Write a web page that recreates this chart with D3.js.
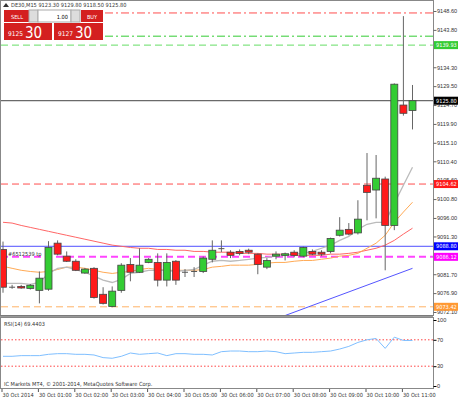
<!DOCTYPE html>
<html><head><meta charset="utf-8">
<script src="https://cdn.jsdelivr.net/npm/d3@7"></script>
<style>body{margin:0;background:#fff}svg{font-family:"DejaVu Sans Condensed","DejaVu Sans",sans-serif}</style>
</head><body><svg id="c" width="459" height="400"></svg>
<script>
const opens =[9088.0,9078.4,9078.6,9078.1,9077.6,9077.9,9089.6,9086.3,9085.0,9082.0,9083.2,9076.6,9073.5,9077.6,9084.2,9082.2,9084.7,9084.7,9080.2,9085.0,9082.2,9082.4,9082.4,9085.5,9088.2,9087.3,9087.5,9087.8,9086.8,9083.5,9086.3,9086.5,9087.3,9086.3,9087.5,9087.3,9087.5,9091.6,9093.1,9092.2,9104.3,9103.1,9105.9,9094.1,9124.7,9123.3];
const highs =[9090.0,9079.0,9079.0,9079.2,9082.4,9090.1,9090.3,9087.5,9085.5,9083.3,9083.5,9078.4,9078.6,9084.5,9085.8,9088.3,9085.8,9087.0,9087.0,9085.3,9083.0,9083.5,9086.2,9090.3,9090.3,9087.8,9088.0,9088.2,9087.0,9085.8,9087.5,9087.2,9087.8,9088.7,9088.0,9087.8,9091.0,9096.2,9094.7,9100.5,9112.5,9112.0,9106.5,9130.2,9147.3,9129.8];
const lows  =[9077.0,9078.0,9078.0,9077.8,9074.3,9077.5,9086.5,9084.8,9082.5,9081.8,9075.5,9074.0,9073.3,9077.0,9079.9,9082.0,9084.5,9078.6,9078.6,9079.0,9081.0,9081.0,9082.0,9084.7,9087.3,9085.8,9086.5,9086.8,9081.7,9083.0,9085.5,9085.2,9086.0,9086.0,9086.5,9086.3,9087.0,9091.3,9091.6,9091.8,9095.4,9095.9,9082.7,9092.9,9122.0,9118.5];
const closes=[9078.4,9078.4,9078.2,9078.9,9080.7,9088.5,9086.8,9085.0,9082.7,9083.0,9075.8,9074.3,9077.4,9084.0,9082.2,9084.0,9085.5,9080.2,9084.7,9080.2,9082.2,9082.4,9085.8,9087.8,9088.2,9086.5,9087.0,9087.3,9084.2,9085.2,9086.8,9086.9,9086.5,9088.5,9086.8,9086.8,9090.8,9092.9,9091.9,9095.7,9102.5,9106.1,9094.1,9130.0,9122.6,9125.8];
const maRed=[9094.9,9094.7,9094.1,9093.6,9093.1,9092.6,9092.1,9091.6,9091.1,9090.6,9090.1,9089.6,9089.1,9088.8,9088.5,9088.3,9088.3,9088.0,9088.0,9087.8,9087.8,9087.5,9087.5,9087.3,9087.3,9087.3,9087.0,9087.0,9087.0,9086.8,9086.8,9086.8,9086.5,9086.5,9086.5,9086.5,9086.8,9086.8,9087.0,9087.3,9087.8,9088.3,9089.1,9090.3,9091.9,9093.4];
const maOrange=[9083.7,9083.2,9082.7,9082.4,9082.2,9082.4,9082.9,9083.5,9083.5,9083.2,9082.7,9082.2,9081.9,9082.2,9082.4,9082.9,9083.2,9082.9,9082.7,9082.7,9082.7,9082.7,9082.9,9083.5,9083.7,9084.0,9084.0,9084.0,9084.2,9084.5,9084.7,9084.7,9085.0,9085.2,9085.2,9085.5,9085.8,9086.3,9086.5,9087.0,9088.3,9089.6,9091.6,9094.9,9097.5,9100.0];
const maGray=[9079.4,9079.4,9079.4,9079.1,9079.6,9081.9,9083.2,9083.5,9082.9,9082.2,9081.2,9080.2,9079.6,9080.4,9081.9,9082.2,9082.7,9082.7,9082.7,9082.4,9082.7,9082.9,9084.0,9085.0,9085.2,9085.0,9085.2,9085.5,9085.8,9086.0,9086.3,9086.5,9086.8,9087.0,9087.5,9088.3,9089.1,9090.3,9091.3,9093.1,9094.4,9094.9,9094.9,9099.7,9104.3,9108.9];
const rsi=[45,45,46,46,46,48,49,49,48,48,47,43,42,45,50,48,49,50,46,49,49,48,48,47,52,53,53,52,52,53,52,49,50,51,51,52,53,56,60,66,70,72,57,74,69,69];
const trendIdx=[31,45], trendVal=[9071.2,9083.2];
const levels=[
 {v:9148.1,c:"#ff4d4d",d:"8,3,2,3",label:null},
 {v:9142.2,c:"#33cc33",d:"8,3,2,3",label:null},
 {v:9139.93,c:"#66dd66",d:"7,4",label:"9139.93",bg:"#33cc33"},
 {v:9125.80,c:"#444",d:null,label:"9125.80",bg:"#000"},
 {v:9104.62,c:"#ff4d4d",d:"7,4",label:"9104.62",bg:"#ff1a1a"},
 {v:9088.80,c:"#5050ff",d:null,label:"9088.80",bg:"#0000ff"},
 {v:9086.12,c:"#ff44ff",d:"7,4",label:"9086.12",bg:"#ff00ff",w:2},
 {v:9073.42,c:"#ffb266",d:"7,4",label:"9073.42",bg:"#ff9933"}];
const priceTicks=[9148.60,9143.80,9134.30,9129.50,9124.70,9119.90,9115.10,9110.40,9105.60,9100.80,9096.00,9091.30,9081.70,9076.90,9072.10];
const timeLabels=["30 Oct 2014","30 Oct 01:00","30 Oct 02:00","30 Oct 03:00","30 Oct 04:00","30 Oct 05:00","30 Oct 06:00","30 Oct 07:00","30 Oct 08:00","30 Oct 09:00","30 Oct 10:00","30 Oct 11:00"];
const rsiTicks=[100,70,30,0];
const FS=5.6;

const svg=d3.select("#c");
const RX=433;
const x=d3.scaleLinear().domain([0,45]).range([3,412.5]);
const y=d3.scaleLinear().domain([9148.6,9072.1]).range([11,312]);
const yr=d3.scaleLinear().domain([0,100]).range([386,320]);

levels.forEach(l=>{
  const ln=svg.append("line").attr("x1",l.v>9140?105:1).attr("x2",RX).attr("y1",y(l.v)).attr("y2",y(l.v))
   .attr("stroke",l.c).attr("stroke-width",l.w||1);
  if(l.d) ln.attr("stroke-dasharray",l.d);
});
svg.append("text").attr("x",8).attr("y",y(9086.12)-1).attr("font-size",FS).attr("fill","#333").text("#6512539 tp");

const line=arr=>d3.line().x((d,i)=>x(i)).y(d=>y(d))(arr);
svg.append("path").attr("d",line(maRed)).attr("fill","none").attr("stroke","#ff6666");
svg.append("path").attr("d",line(maOrange)).attr("fill","none").attr("stroke","#ffaa55");
svg.append("path").attr("d",line(maGray)).attr("fill","none").attr("stroke","#bbbbbb").attr("stroke-width",1.3);
svg.append("line").attr("x1",x(trendIdx[0])).attr("x2",x(trendIdx[1])).attr("y1",y(trendVal[0])).attr("y2",y(trendVal[1])).attr("stroke","#5555ff");

opens.forEach((o,i)=>{
  const c=closes[i],up=c>=o,cx=x(i);
  svg.append("line").attr("x1",cx).attr("x2",cx).attr("y1",y(highs[i])).attr("y2",y(lows[i])).attr("stroke","#666");
  const t=y(Math.max(o,c)),b=y(Math.min(o,c));
  if(b-t<1.2){svg.append("line").attr("x1",cx-3).attr("x2",cx+3).attr("y1",t).attr("y2",t).attr("stroke","#555");}
  else svg.append("rect").attr("x",cx-3.5).attr("width",7).attr("y",t).attr("height",b-t)
    .attr("fill",up?"#33cc33":"#ff1a1a").attr("stroke","#444").attr("stroke-width",0.8);
});

svg.append("rect").attr("x",0.5).attr("y",0.5).attr("width",RX).attr("height",315).attr("fill","none").attr("stroke","#888");
svg.append("rect").attr("x",0.5).attr("y",317.5).attr("width",RX).attr("height",71).attr("fill","none").attr("stroke","#888");
svg.append("line").attr("x1",0).attr("x2",RX).attr("y1",316).attr("y2",316).attr("stroke","#777").attr("stroke-width",1.5);

const pax=svg.append("g").attr("transform",`translate(${RX+0.5},0)`).call(d3.axisRight(y).tickValues(priceTicks).tickSize(3).tickFormat(d3.format(".2f")));
pax.select(".domain").remove();
pax.selectAll("text").attr("font-size",FS).attr("fill","#333").attr("x",3.5);
pax.selectAll("line").attr("stroke","#666");
levels.filter(l=>l.label).forEach(l=>{
  svg.append("rect").attr("x",RX+1).attr("y",y(l.v)-4).attr("width",24).attr("height",8).attr("fill",l.bg);
  svg.append("text").attr("x",RX+3).attr("y",y(l.v)+2).attr("font-size",FS).attr("fill","#fff").text(l.label);
});

[70,30].forEach(v=>svg.append("line").attr("x1",1).attr("x2",RX).attr("y1",yr(v)).attr("y2",yr(v)).attr("stroke","#ff4444").attr("stroke-dasharray","1.5,2"));
svg.append("path").attr("d",d3.line().x((d,i)=>x(i)).y(d=>yr(d))(rsi)).attr("fill","none").attr("stroke","#7fbfff");
const rax=svg.append("g").attr("transform",`translate(${RX+0.5},0)`).call(d3.axisRight(yr).tickValues(rsiTicks).tickSize(3));
rax.select(".domain").remove();
rax.selectAll("text").attr("font-size",FS).attr("fill","#333").attr("x",3.5);
svg.append("text").attr("x",4).attr("y",326).attr("font-size",FS).attr("fill","#333").text("RSI(14) 69.4403");
svg.append("text").attr("x",4).attr("y",386).attr("font-size",FS).attr("fill","#333").text("IC Markets MT4, © 2001-2014, MetaQuotes Software Corp.");

timeLabels.forEach((t,i)=>{
  const tx=x(i*4)-1;
  svg.append("line").attr("x1",tx).attr("x2",tx).attr("y1",389).attr("y2",392).attr("stroke","#555");
  svg.append("text").attr("x",tx+0.5).attr("y",397).attr("font-size",FS).attr("fill","#333").text(t);
});

svg.append("text").attr("x",11).attr("y",7).attr("font-size",FS).attr("fill","#333").text("DE30,M15  9123.30 9129.80 9118.50 9125.80");
svg.append("path").attr("d","M3,7 L6,3 L9,7Z").attr("fill","#333");
const red="#d42020";
svg.append("rect").attr("x",4).attr("y",10).attr("width",26).attr("height",12).attr("fill",red);
svg.append("text").attr("x",17).attr("y",18.5).attr("text-anchor","middle").attr("font-size",FS).attr("fill","#fff").text("SELL");
svg.append("rect").attr("x",81).attr("y",10).attr("width",22).attr("height",12).attr("fill",red);
svg.append("text").attr("x",92).attr("y",18.5).attr("text-anchor","middle").attr("font-size",FS).attr("fill","#fff").text("BUY");
svg.append("rect").attr("x",29).attr("y",10).attr("width",9).attr("height",12).attr("fill","#ddd").attr("stroke","#aaa");
svg.append("rect").attr("x",38).attr("y",10).attr("width",33).attr("height",12).attr("fill","#fff").attr("stroke","#aaa");
svg.append("rect").attr("x",71).attr("y",10).attr("width",9).attr("height",12).attr("fill","#ddd").attr("stroke","#aaa");
svg.append("text").attr("x",68).attr("y",18.5).attr("text-anchor","end").attr("font-size",FS).attr("fill","#000").text("1.00");
svg.append("rect").attr("x",4).attr("y",23).attr("width",48).attr("height",17).attr("fill",red);
svg.append("rect").attr("x",54).attr("y",23).attr("width",49).attr("height",17).attr("fill",red);
svg.append("text").attr("x",8).attr("y",36).attr("font-size",6.5).attr("fill","#fff").text("9125");
svg.append("text").attr("x",25).attr("y",38).attr("font-size",15).attr("fill","#fff").text("30");
svg.append("text").attr("x",58).attr("y",36).attr("font-size",6.5).attr("fill","#fff").text("9127");
svg.append("text").attr("x",75).attr("y",38).attr("font-size",15).attr("fill","#fff").text("30");
</script></body></html>
